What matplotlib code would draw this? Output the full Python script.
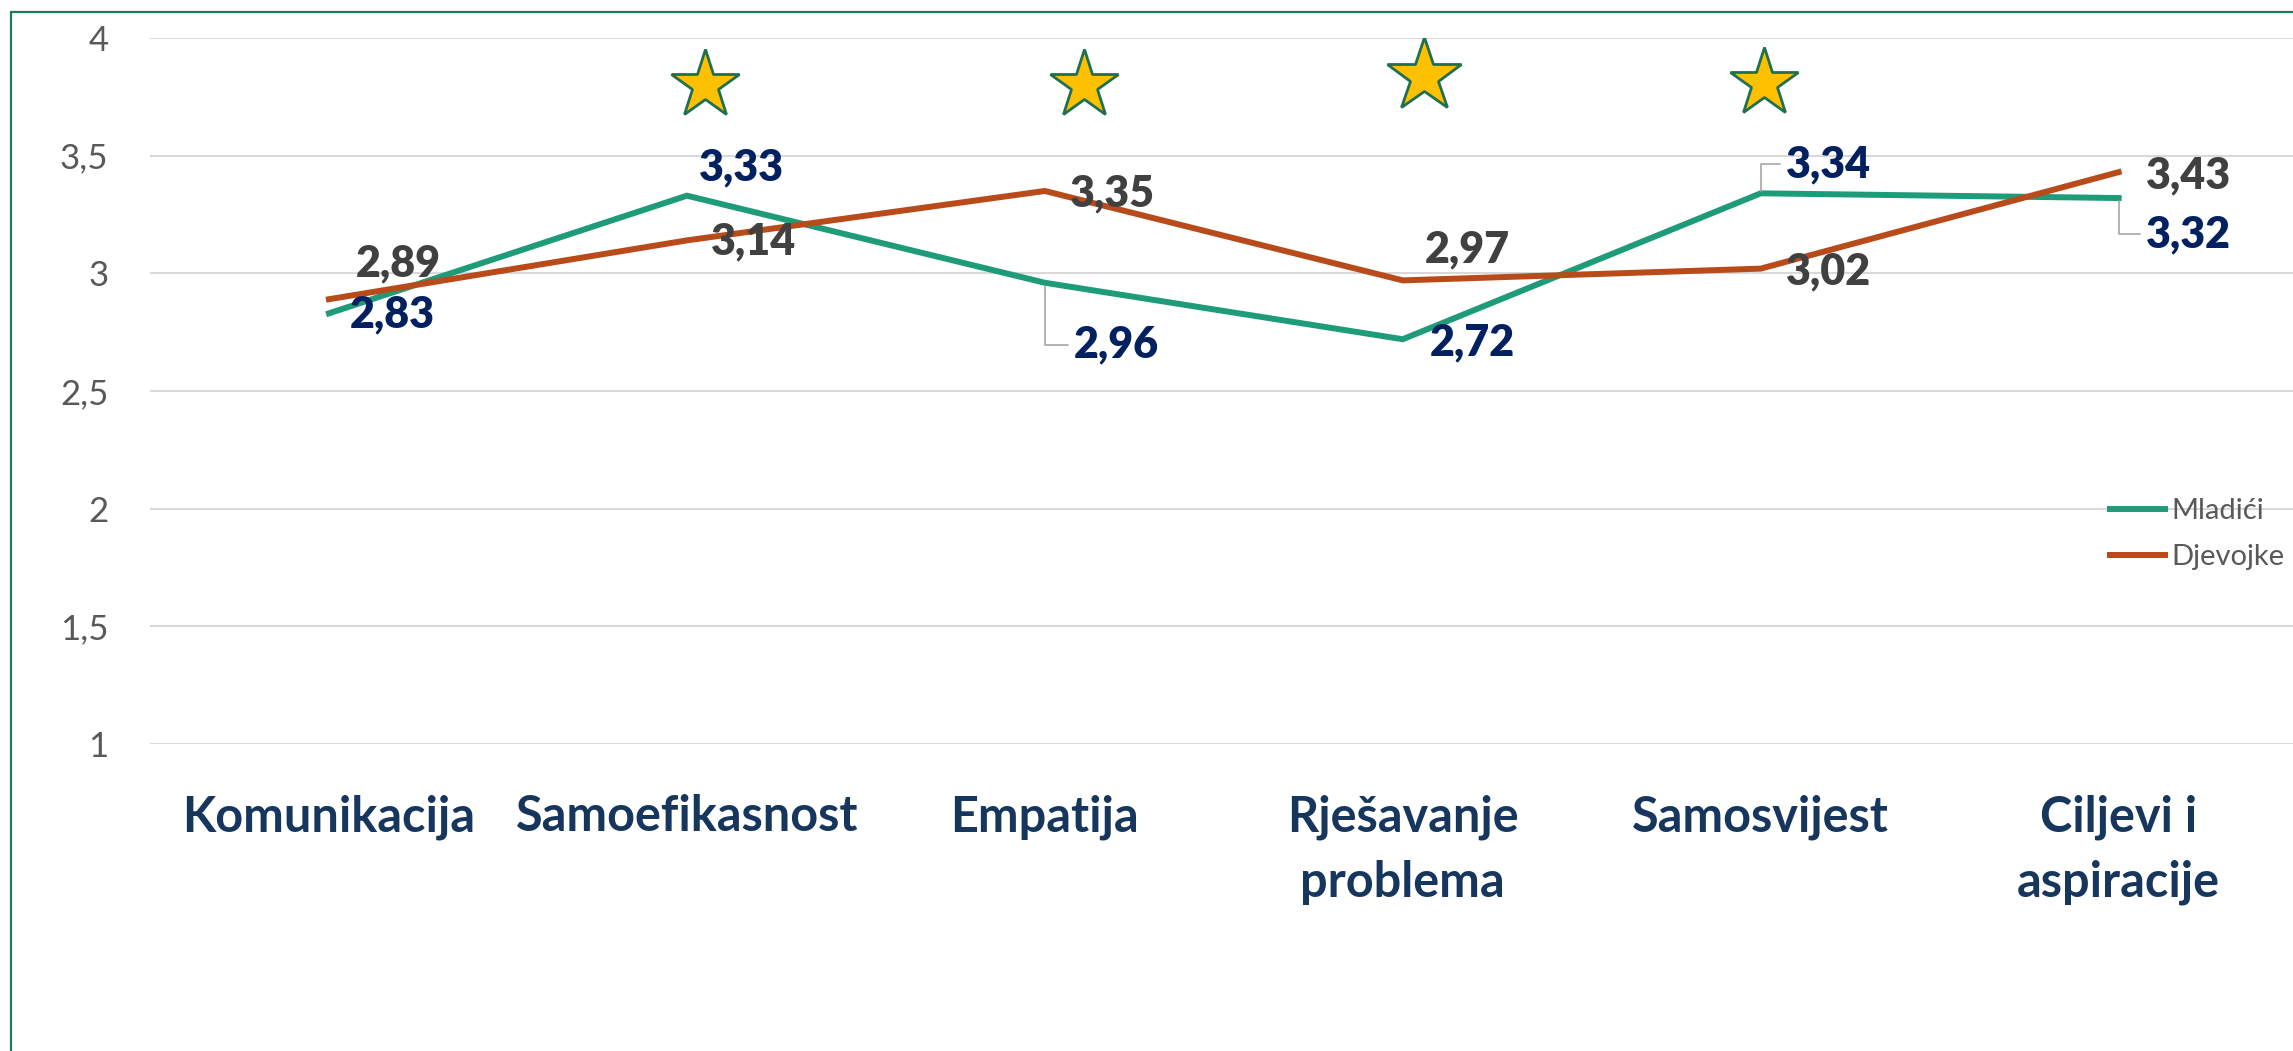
import matplotlib.pyplot as plt
from matplotlib.patches import Rectangle
import numpy as np

# data
categories = ['Komunikacija', 'Samoefikasnost', 'Empatija',
              'Rješavanje\nproblema', 'Samosvijest', 'Ciljevi i\naspiracije']
mladici = [2.83, 3.33, 2.96, 2.72, 3.34, 3.32]
djevojke = [2.89, 3.14, 3.35, 2.97, 3.02, 3.43]
star_cats = [1, 2, 3, 4]   # categories marked with a star
star_level = [3.80, 3.80, 3.84, 3.81]
yticks = [1, 1.5, 2, 2.5, 3, 3.5, 4]

GREEN = '#1E9B78'
ORANGE = '#B94A19'
NAVY = '#002060'
GREY = '#404040'
FONT = 'Lato'

# label offsets in pixels (dx, dy) and whether a leader line is drawn
m_off = [(21, -1, False), (12, 28, False), (29, -62, True),
         (27, -3, False), (25, 29, True), (27, -36, True)]
d_off = [(27, 36, False), (24, -1, False), (25, -2, False),
         (22, 31, False), (25, -3, False), (27, -3, False)]
star_dx = [0.05, 0.11, 0.06, 0.01]
star_size = [52, 52, 56, 52]

plt.rcParams['font.family'] = [FONT, 'DejaVu Sans']

fig = plt.figure(figsize=(22.93, 10.51), dpi=100)
ax = fig.add_axes([150 / 2293, 307 / 1051, (2293 - 150) / 2293 + 0.002, 706 / 1051])

x = np.arange(len(categories))
ax.plot(x, mladici, color=GREEN, lw=4.3, solid_joinstyle='miter', label='Mladići', zorder=3)
ax.plot(x, djevojke, color=ORANGE, lw=4.3, solid_joinstyle='miter', label='Djevojke', zorder=3)

ax.set_xlim(-0.5, len(categories) - 0.5)
ax.set_ylim(1, 4)
ax.set_yticks(yticks)
ax.set_yticklabels([f'{v:g}'.replace('.', ',') for v in yticks])
ax.set_xticks(x)
ax.set_xticklabels(categories, linespacing=1.55)
ax.yaxis.grid(True, color='#D9D9D9', lw=1.5)
ax.set_axisbelow(True)
for s in ax.spines.values():
    s.set_visible(False)
ax.tick_params(axis='both', length=0)
ax.tick_params(axis='y', pad=30, labelsize=25, labelcolor='#595959')
ax.tick_params(axis='x', pad=36, labelsize=35, labelcolor='#17365D')
for t in ax.get_xticklabels():
    t.set_fontweight('bold')

def labels(vals, offs, color):
    for i, (v, (dx, dy, lead)) in enumerate(zip(vals, offs)):
        txt = f'{v:.2f}'.replace('.', ',')
        kw = {}
        if lead:
            kw['arrowprops'] = dict(arrowstyle='-', color='#A6A6A6', lw=1.2,
                                    shrinkA=2, shrinkB=2,
                                    connectionstyle='angle,angleA=0,angleB=90,rad=0')
        ax.annotate(txt, (i, v), xytext=(dx, dy), textcoords='offset pixels',
                    ha='left', va='center', fontsize=31, fontweight='heavy',
                    color=color, zorder=5, **kw)

labels(mladici, m_off, NAVY)
labels(djevojke, d_off, GREY)

for c, dx, lv, ms in zip(star_cats, star_dx, star_level, star_size):
    ax.plot(c + dx, lv, marker='*', markersize=ms, markerfacecolor='#FFC000',
            markeredgecolor='#1E7050', markeredgewidth=2, zorder=4)

fig.legend(loc='center left', bbox_to_anchor=(2110 / 2293, 1 - 534 / 1051),
           frameon=False, fontsize=21, handlelength=1.9, handletextpad=0.2,
           labelspacing=0.7, borderpad=0, borderaxespad=0, labelcolor='#595959')

fig.patches.append(Rectangle((11 / 2293, -0.05), 1.1, 0.05 + 1 - 12 / 1051,
                             transform=fig.transFigure, fill=False,
                             edgecolor='#1E7B5E', lw=1.6))

fig.savefig('out.png', dpi=100)
